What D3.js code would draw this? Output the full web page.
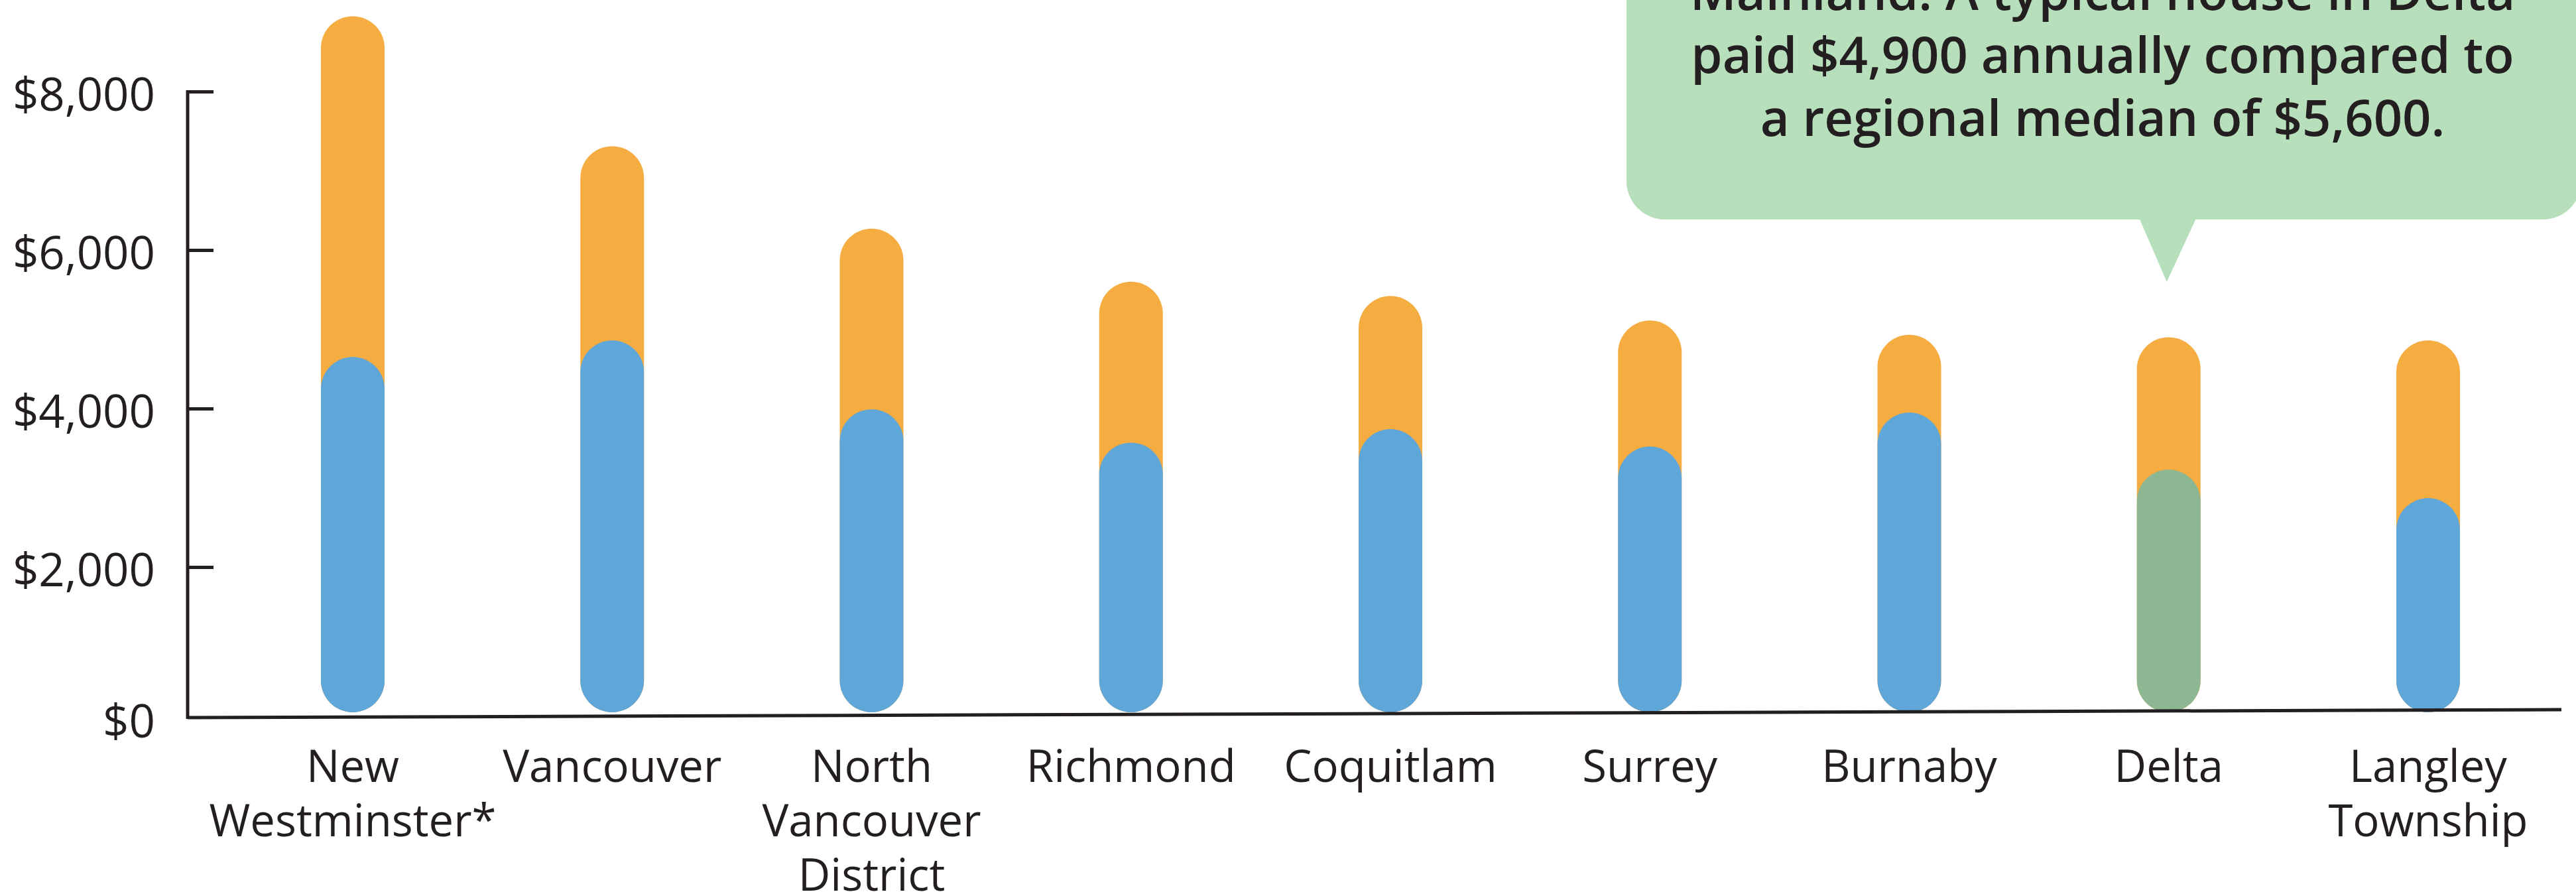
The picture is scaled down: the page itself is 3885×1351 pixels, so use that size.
<!DOCTYPE html>
<html>
<head>
<meta charset="utf-8">
<script src="https://cdn.jsdelivr.net/npm/d3@7"></script>
<style>
  body { margin: 0; background: #fff; }
  svg { display: block; }
</style>
</head>
<body>
<div id="chart"></div>
<script>
// annual charges for a typical house, by municipality
const categories = ['New Westminster*', 'Vancouver', 'North Vancouver District', 'Richmond', 'Coquitlam', 'Surrey', 'Burnaby', 'Delta', 'Langley Township']
const labelLines = [['New', 'Westminster*'], ['Vancouver'], ['North', 'Vancouver', 'District'], ['Richmond'], ['Coquitlam'], ['Surrey'], ['Burnaby'], ['Delta'], ['Langley', 'Township']]
const totalCharges = [8950, 7310, 6270, 5600, 5420, 5110, 4930, 4900, 4860]
const propertyTax = [4650, 4860, 3990, 3570, 3740, 3520, 3950, 3230, 2870]
const yTicks = [0, 2000, 4000, 6000, 8000]
const highlight = 'Delta'
const calloutLines = ['Mainland. A typical house in Delta', 'paid $4,900 annually compared to', 'a regional median of $5,600.']

const width = 3885
const height = 1351
const ink = '#231f20'
const font = "'Open Sans', 'Noto Sans', sans-serif"
const barWidth = 96
const r = barWidth / 2

const svg = d3.select('#chart')
  .append('svg')
  .attr('width', width)
  .attr('height', height)

const x = d3.scalePoint()
  .domain(categories)
  .range([532, 3662])

const y = d3.scaleLinear()
  .domain([0, 8000])
  .range([1094, 138])

const axisX = 283
const barBase = y(0) - 20 // bottom of the rounded bars

// y axis, ticks point inward
const yAxis = svg.append('g')
  .attr('transform', 'translate(' + axisX + ',0)')
  .call(d3.axisLeft(y)
    .tickValues(yTicks)
    .tickSizeInner(-39)
    .tickSizeOuter(0)
    .tickPadding(49)
    .tickFormat(d => '$' + d3.format(',')(d)))

yAxis.select('.domain').remove()
yAxis.selectAll('.tick line')
  .attr('stroke', ink)
  .attr('stroke-width', 5)
yAxis.selectAll('.tick text')
  .attr('fill', ink)
  .attr('dy', '0.42em')
  .style('font-family', font)
  .style('font-size', '69px')

// the $0 label sits on the baseline, no tick mark
const zeroTick = yAxis.selectAll('.tick').filter(d => d === 0)
zeroTick.attr('transform', 'translate(0,' + (y(0) - 11) + ')')
zeroTick.select('line').remove()

svg.append('line')
  .attr('x1', axisX)
  .attr('x2', axisX)
  .attr('y1', y(8000) - 2)
  .attr('y2', y(0) - 10)
  .attr('stroke', ink)
  .attr('stroke-width', 5)

// bars drawn as thick round-capped lines
const bars = svg.append('g')
  .selectAll('g')
  .data(categories)
  .enter()
  .append('g')

bars.append('line')
  .attr('x1', d => x(d))
  .attr('x2', d => x(d))
  .attr('y1', (d, i) => y(totalCharges[i]) + r)
  .attr('y2', barBase - r)
  .attr('stroke', '#f5ac40')
  .attr('stroke-width', barWidth)
  .attr('stroke-linecap', 'round')

bars.append('line')
  .attr('x1', d => x(d))
  .attr('x2', d => x(d))
  .attr('y1', (d, i) => y(propertyTax[i]) + r)
  .attr('y2', barBase - r)
  .attr('stroke', d => d === highlight ? '#8db793' : '#5fa6d9')
  .attr('stroke-width', barWidth)
  .attr('stroke-linecap', 'round')

// baseline, slightly tilted as in the print version
svg.append('line')
  .attr('x1', axisX)
  .attr('x2', 3863)
  .attr('y1', y(0) - 12)
  .attr('y2', y(0) - 24)
  .attr('stroke', ink)
  .attr('stroke-width', 5)

// category labels
svg.append('g')
  .selectAll('text')
  .data(categories)
  .enter()
  .append('text')
  .attr('x', d => x(d))
  .attr('y', 1179)
  .attr('text-anchor', 'middle')
  .attr('fill', ink)
  .style('font-family', font)
  .style('font-size', '67px')
  .each(function (d, i) {
    d3.select(this)
      .selectAll('tspan')
      .data(labelLines[i])
      .enter()
      .append('tspan')
      .attr('x', x(d))
      .attr('dy', (t, j) => j === 0 ? 0 : 82)
      .text(t => t)
  })

// callout bubble pointing at the highlighted bar
const cx = x(highlight)
const callout = svg.append('g')

callout.append('rect')
  .attr('x', 2453)
  .attr('y', -120)
  .attr('width', 1440)
  .attr('height', 451)
  .attr('rx', 58)
  .attr('fill', '#b8dfbb')

callout.append('path')
  .attr('d', 'M' + (cx - 44) + ',330 L' + (cx + 41) + ',330 L' + (cx - 3) + ',425 Z')
  .attr('fill', '#b8dfbb')

callout.append('text')
  .attr('x', 3171)
  .attr('y', 15)
  .attr('text-anchor', 'middle')
  .attr('fill', ink)
  .style('font-family', font)
  .style('font-weight', 600)
  .style('font-size', '76px')
  .selectAll('tspan')
  .data(calloutLines)
  .enter()
  .append('tspan')
  .attr('x', 3171)
  .attr('dy', (t, j) => j === 0 ? 0 : 95)
  .text(t => t)
</script>
</body>
</html>
